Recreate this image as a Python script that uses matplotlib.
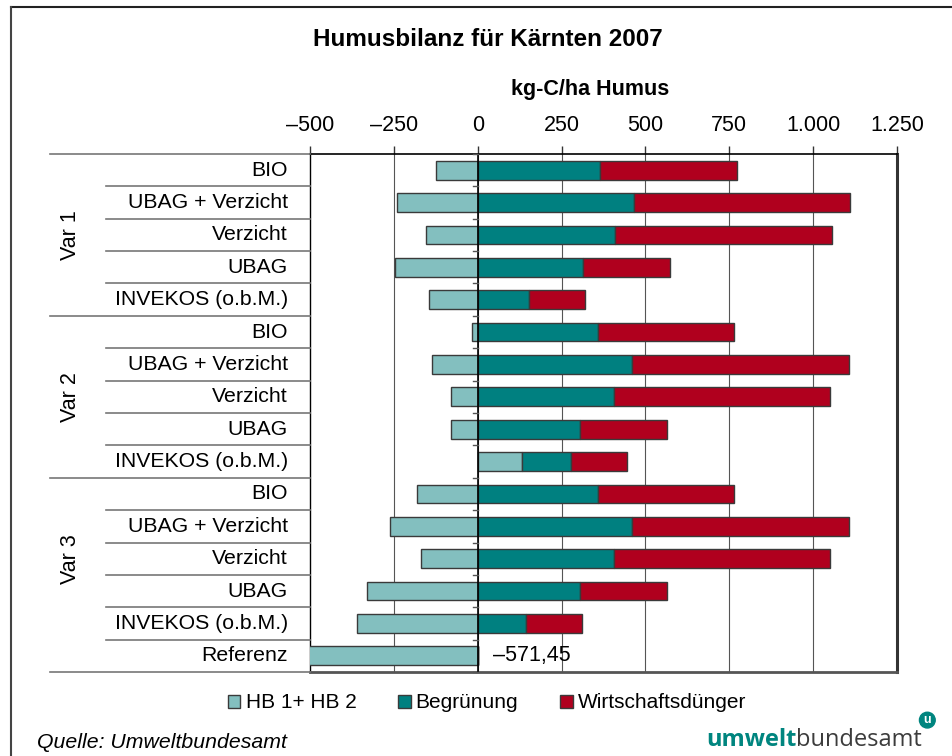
import matplotlib
matplotlib.use("Agg")
import matplotlib.pyplot as plt
from matplotlib.patches import Patch
from matplotlib.lines import Line2D
import matplotlib.transforms as mtransforms

plt.rcParams['font.family'] = ['Liberation Sans', 'DejaVu Sans']

# Daten (kg-C/ha Humus), von oben nach unten
kategorien = ["BIO", "UBAG + Verzicht", "Verzicht", "UBAG", "INVEKOS (o.b.M.)"] * 3 + ["Referenz"]
gruppen = ["Var 1", "Var 2", "Var 3"]
hb = [-125, -241, -155, -248, -146,
      -16, -136, -80, -80, 133,
      -181, -262, -168, -329, -361,
      -571.45]
begruenung = [364, 465, 409, 314, 153,
              358, 459, 407, 305, 145,
              358, 459, 406, 305, 145,
              0]
wirtschaftsduenger = [408, 646, 646, 260, 166,
                      407, 647, 644, 260, 168,
                      407, 647, 645, 260, 167,
                      0]
xticks = [-500, -250, 0, 250, 500, 750, 1000, 1250]
xticklabels = ["–500", "–250", "0", "250", "500", "750", "1.000", "1.250"]

c_hb = "#83bfbf"
c_beg = "#008080"
c_wd = "#b0001e"
edge = "#3a3a3a"

W, H = 952, 756
fig = plt.figure(figsize=(9.52, 7.56), dpi=100)
ax = fig.add_axes([310 / W, 1 - 672 / H, 587 / W, 518 / H])

n = len(kategorien)
y = list(range(n))
bh = 0.58

# HB: negative Werte links von 0, positive als Basis der Stapel
beg_start = [max(h, 0) for h in hb]
wd_start = [b + g for b, g in zip(beg_start, begruenung)]
ax.barh(y, hb, height=bh, color=c_hb, edgecolor=edge, linewidth=1, zorder=3)
ax.barh(y, begruenung, left=beg_start, height=bh, color=c_beg, edgecolor=edge, linewidth=1, zorder=3)
ax.barh(y, wirtschaftsduenger, left=wd_start, height=bh, color=c_wd, edgecolor=edge, linewidth=1, zorder=3)

ax.set_xlim(-500, 1250)
ax.set_ylim(n - 0.5, -0.5)

ax.xaxis.tick_top()
ax.set_xticks(xticks)
ax.set_xticklabels(xticklabels, fontsize=15.5)
ax.tick_params(axis='x', direction='out', length=6, width=1, color='#333333', pad=7)
ax.set_yticks([])
for xv in xticks[1:-1]:
    ax.axvline(xv, color='#555555', lw=0.8, zorder=1)
ax.axvline(0, color='black', lw=1.2, zorder=4)

# kleine Striche an der Nulllinie
for i in range(n + 1):
    ax.plot([-14, 0], [i - 0.5, i - 0.5], color='#555555', lw=1, zorder=4, clip_on=False)

ax.spines['top'].set_color('black')
ax.spines['top'].set_linewidth(1.2)
ax.spines['left'].set_color('black')
ax.spines['left'].set_linewidth(1)
ax.spines['right'].set_color('#333333')
ax.spines['right'].set_linewidth(2.2)
ax.spines['bottom'].set_color('#555555')
ax.spines['bottom'].set_linewidth(2)

# Wert für Referenz
ax.text(45, n - 1, "–571,45", fontsize=15.5, va='center', ha='left', zorder=5)

# Kategorienbeschriftung links
tr = mtransforms.blended_transform_factory(fig.transFigure, ax.transData)
for i, lab in enumerate(kategorien):
    fig.text(288 / W, i, lab, transform=tr, ha='right', va='center', fontsize=15.3)
for i in range(n + 1):
    x0 = 50 if i in (0, 5, 10, n) else 106
    fig.add_artist(Line2D([x0 / W, 310 / W], [i - 0.5, i - 0.5], transform=tr,
                          color='#777777', lw=1.2))
for g, lab in enumerate(gruppen):
    fig.text(70 / W, g * 5 + 2, lab, transform=tr, rotation=90,
             ha='center', va='center', fontsize=15.5)

# Titel
fig.text(488 / W, 1 - 40 / H, "Humusbilanz für Kärnten 2007", ha='center', va='center',
         fontsize=17.5, fontweight='bold')
fig.text(590 / W, 1 - 90 / H, "kg-C/ha Humus", ha='center', va='center',
         fontsize=15.5, fontweight='bold')

# Legende
handles = [Patch(facecolor=c_hb, edgecolor=edge), Patch(facecolor=c_beg, edgecolor=edge),
           Patch(facecolor=c_wd, edgecolor=edge)]
fig.legend(handles, ["HB 1+ HB 2", "Begrünung", "Wirtschaftsdünger"], loc='center',
           bbox_to_anchor=(487 / W, 1 - 703 / H), ncol=3, frameon=False, fontsize=15,
           handlelength=0.6, handleheight=0.6, handletextpad=0.25, columnspacing=2.0)

# Quelle und Logo
fig.text(37 / W, 1 - 742 / H, "Quelle: Umweltbundesamt", ha='left', va='center',
         fontsize=15.3, style='italic')
t1 = fig.text(706 / W, 1 - 752 / H, "umwelt", ha='left', va='bottom', fontsize=17,
              fontweight='bold', color='#00857f', family='Open Sans')
ann = plt.annotate("bundesamt", xy=(1, 0), xycoords=t1, ha='left', va='bottom',
                   fontsize=17, color='#3c3c3c', family='Open Sans')
plt.annotate("u", xy=(1, 1), xycoords=ann, xytext=(1, 10), textcoords='offset points',
             ha='left', va='top', fontsize=9, fontweight='bold', color='white',
             bbox=dict(boxstyle='circle,pad=0.15', fc='#00857f', ec='#00857f'))

# Rahmen
fig.add_artist(Line2D([11 / W, 1], [1 - 7 / H, 1 - 7 / H], transform=fig.transFigure,
                      color='#222222', lw=1.5))
fig.add_artist(Line2D([11 / W, 11 / W], [0, 1 - 7 / H], transform=fig.transFigure,
                      color='#444444', lw=1.5))

fig.savefig("out.png", dpi=100)
